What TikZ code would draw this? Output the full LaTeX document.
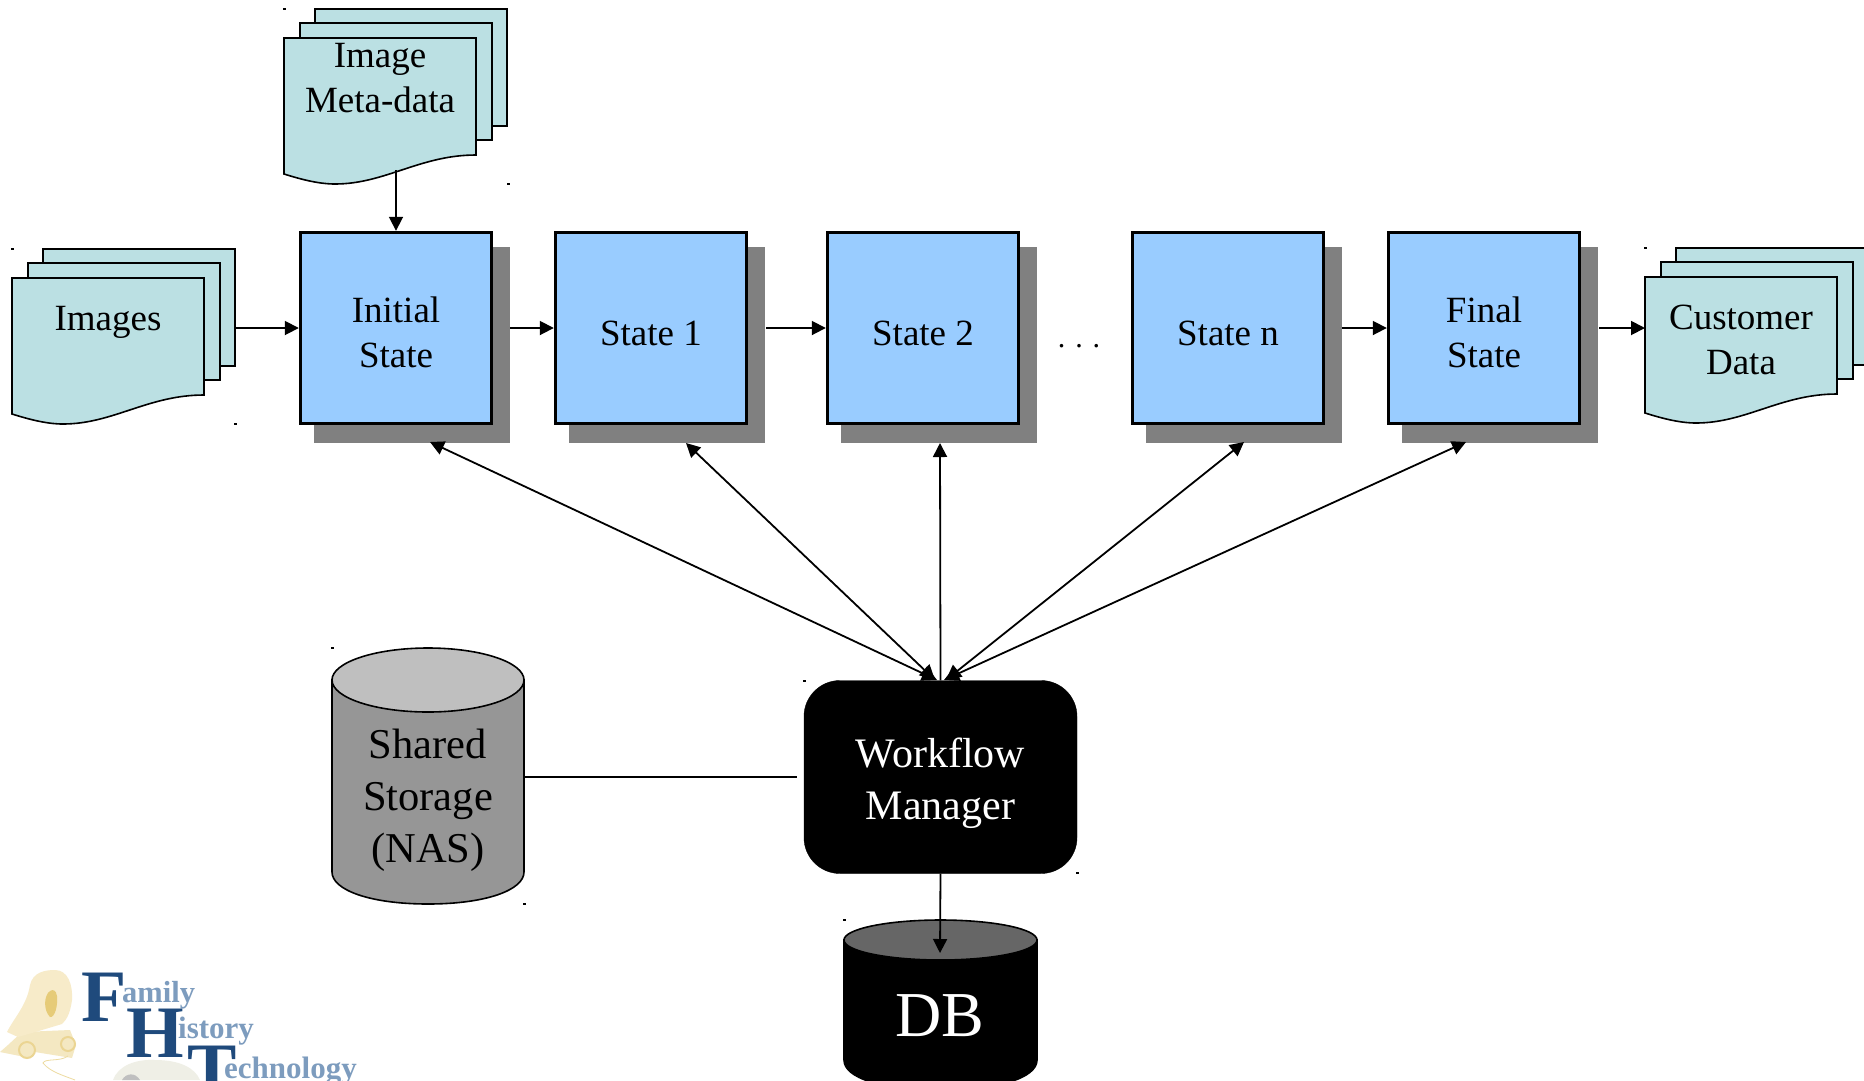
\documentclass[tikz,border=0pt]{standalone}
\usepackage{fontspec}
\setmainfont{Liberation Serif}
\usetikzlibrary{arrows.meta,shadows}
\definecolor{sheetc}{HTML}{BBE0E3}
\definecolor{statec}{HTML}{99CCFF}
\definecolor{logodark}{HTML}{1F4A7C}
\definecolor{logolight}{HTML}{7D9CBE}
\definecolor{wagon}{HTML}{F7EBC9}
\definecolor{wagondark}{HTML}{E6CB78}
\definecolor{mousec}{HTML}{EFEFE6}
\tikzset{
  statebox/.style={draw=black,line width=3.4pt,fill=statec,minimum size=191pt,inner sep=0pt,align=center,
    font=\fontsize{37}{45}\selectfont,
    drop shadow={shadow xshift=16pt,shadow yshift=-16.5pt,shadow scale=1.026,opacity=1,fill=black!50}},
  sheet/.style={draw=black,line width=1.6pt,fill=sheetc,line join=miter},
  doclabel/.style={align=center,font=\fontsize{37}{45}\selectfont,inner sep=0pt},
  conn/.style={line width=1.8pt,-{Triangle[length=14pt,width=14pt]}},
  biconn/.style={line width=1.8pt,{Triangle[length=14pt,width=14pt]}-{Triangle[length=15pt,width=15pt]}},
  plainconn/.style={line width=1.8pt},
  cyl/.style={draw=black,line width=1.6pt},
  cyllabel/.style={align=center,inner sep=0pt,font=\fontsize{42.5}{52}\selectfont},
  handle/.style={fill=black,inner sep=0pt,minimum width=3pt,minimum height=2pt,draw=none},
}
\newcommand{\docsheet}[2]{%
  \begin{scope}[shift={(#1,#2)}]
  \path[sheet] (0,0) -- (192,0) -- (192,117)
    .. controls (136,117) and (101,146) .. (51,146)
    .. controls (34,146) and (16,141) .. (0,136) -- cycle;
  \end{scope}}
\newcommand{\backsheet}[2]{%
  \path[sheet] (#1,#2) rectangle ++(192,117);}
\newcommand{\docstack}[2]{%
  \backsheet{\numexpr#1+31\relax}{\numexpr#2-29\relax}
  \backsheet{\numexpr#1+16\relax}{\numexpr#2-15\relax}
  \docsheet{#1}{#2}}
\newcommand{\upstrut}{\rule{0pt}{35pt}}
\begin{document}
\begin{tikzpicture}[x=1pt,y=-1pt]
\useasboundingbox (0,0) rectangle (1864,1080);
\clip (0,0) rectangle (1864,1080);
\fill[white] (0,0) rectangle (1864,1080);

% document stacks
\docstack{284}{38}
\docstack{12}{278}
\docstack{1645}{277}
\node[doclabel] (meta) at (380,78) {Image\\Meta-data};
\node[doclabel] (images) at (108,322) {Images};
\node[doclabel] (cust) at (1741,340) {Customer\\Data};

% states
\node[statebox] (s0) at (396,328) {\upstrut Initial\\State};
\node[statebox] (s1) at (651,328) {\upstrut State 1};
\node[statebox] (s2) at (923,328) {\upstrut State 2};
\node[statebox] (sn) at (1228,328) {\upstrut State n};
\node[statebox] (sf) at (1484,328) {\upstrut Final\\State};
\node[doclabel,font=\fontsize{30}{36}\selectfont] (dots) at (1079,346) {.\,\,.\,\,.};

% storage cylinders
\path[cyl,fill=black!41] (332,680) -- (332,872)
   .. controls (332,890) and (370,904) .. (428,904)
   .. controls (486,904) and (524,890) .. (524,872) -- (524,680) -- cycle;
\path[cyl,fill=black!25] (428,680) ellipse[x radius=96,y radius=32];
\node[cyllabel] (nas) at (428,800) {Shared\\Storage\\(NAS)};

\path[cyl,fill=black] (844,940) -- (844,1060)
   .. controls (844,1078) and (882,1090) .. (940,1090)
   .. controls (998,1090) and (1037,1078) .. (1037,1060) -- (1037,940) -- cycle;
\path[cyl,fill=black!60] (940.5,940) ellipse[x radius=96.5,y radius=20];
\node[cyllabel,text=white,font=\fontsize{64}{70}\selectfont] (db) at (940,1016) {DB};

% workflow manager
\node[draw=black,fill=black,rounded corners=36pt,minimum width=273pt,minimum height=193pt,inner sep=0pt,
      text=white,align=center,font=\fontsize{42}{52}\selectfont] (wm) at (940.5,777) {\rule{0pt}{42pt}Workflow\\Manager};

% connectors
\coordinate (metaout) at (396,170);
\coordinate (imgout) at (236,328);
\coordinate (custin) at (1645,328);
\coordinate (finout) at (1599,328);
\coordinate (o0) at (510,328);
\coordinate (o1) at (766,328);
\coordinate (o3) at (1342,328);
\draw[conn] (metaout) -- (s0.north);
\draw[conn] (imgout) -- (s0.west);
\draw[conn] (o0) -- (s1.west);
\draw[conn] (o1) -- (s2.west);
\draw[conn] (o3) -- (sf.west);
\draw[conn] (finout) -- (custin);

\coordinate (t0) at (430,442);
\coordinate (t1) at (686,443);
\coordinate (t2) at (940,443);
\coordinate (t3) at (1244,442);
\coordinate (t4) at (1466,442);
\coordinate (w0) at (937,680);
\coordinate (w1) at (935,680);
\coordinate (w3) at (946,680);
\coordinate (w4) at (944,680);
\draw[biconn] (t0) -- (w0);
\draw[biconn] (t1) -- (w1);
\draw[line width=1.8pt,{Triangle[length=14pt,width=14pt]}-] (t2) -- (wm.north);
\draw[biconn] (t3) -- (w3);
\draw[biconn] (t4) -- (w4);
\coordinate (nasout) at (524,777);
\coordinate (wmin) at (797,777);
\draw[plainconn] (nasout) -- (wmin);
\coordinate (dbin) at (940,953);
\draw[conn] (wm.south) -- (dbin);

% selection handles
\foreach \hx/\hy [count=\hi] in {284/9,508/184,12/249,235/424,1645/248,332/648,524/904,804/681,1077/873,844/920}
  \node[handle] (h\hi) at (\hx,\hy) {};

% logo: wagon
\path[fill=wagondark!45] (0,1052) -- (8,1045) -- (22,1032) -- (70,1030) -- (76,1045) -- (72,1058) -- (35,1052) -- (30,1058) -- (5,1053) -- cycle;
\path[fill=wagon] (7,1032) .. controls (14,1018) and (27,1005) .. (30,985)
   .. controls (33,972) and (45,970) .. (55,970) .. controls (68,970) and (73,985) .. (72,1000)
   .. controls (70,1015) and (66,1020) .. (62,1024) -- (32,1033) -- (18,1037) -- cycle;
\path[fill=wagondark] (50,991) .. controls (44,995) and (43,1010) .. (50,1017) .. controls (55,1018) and (58,1005) .. (57,996) .. controls (56,990) and (53,989) .. (50,991) -- cycle;
\draw[wagondark!80,line width=2pt] (27,1050) circle[radius=8];
\draw[wagondark!80,line width=2pt] (68,1044) circle[radius=7];
\draw[wagondark!70,line width=0.8pt] (68,1056) .. controls (60,1062) and (45,1058) .. (43,1063) .. controls (50,1072) and (65,1076) .. (75,1080);
% logo: mouse
\path[fill=mousec] (113,1080) .. controls (118,1066) and (135,1059) .. (155,1060) .. controls (180,1060) and (195,1068) .. (200,1080) -- cycle;
\path[fill=gray!50] (122,1080) .. controls (126,1073) and (135,1072) .. (140,1080) -- cycle;
% logo: letters
\node[anchor=base west,inner sep=0pt,text=logodark,font=\fontsize{74}{74}\bfseries\selectfont] (lf) at (81,1021) {F};
\node[anchor=base west,inner sep=0pt,text=logolight,font=\fontsize{30.5}{31}\bfseries\selectfont] (lfam) at (122,1002) {amily};
\node[anchor=base west,inner sep=0pt,text=logodark,font=\fontsize{74}{74}\bfseries\selectfont] (lh) at (126,1057) {H};
\node[anchor=base west,inner sep=0pt,text=logolight,font=\fontsize{31}{31}\bfseries\selectfont] (lhis) at (178,1038) {istory};
\node[anchor=base west,inner sep=0pt,text=logodark,font=\fontsize{74}{74}\bfseries\selectfont] (lt) at (187,1094) {T};
\node[anchor=base west,inner sep=0pt,text=logolight,font=\fontsize{31}{31}\bfseries\selectfont] (ltec) at (224,1078) {echnology};
\end{tikzpicture}
\end{document}
